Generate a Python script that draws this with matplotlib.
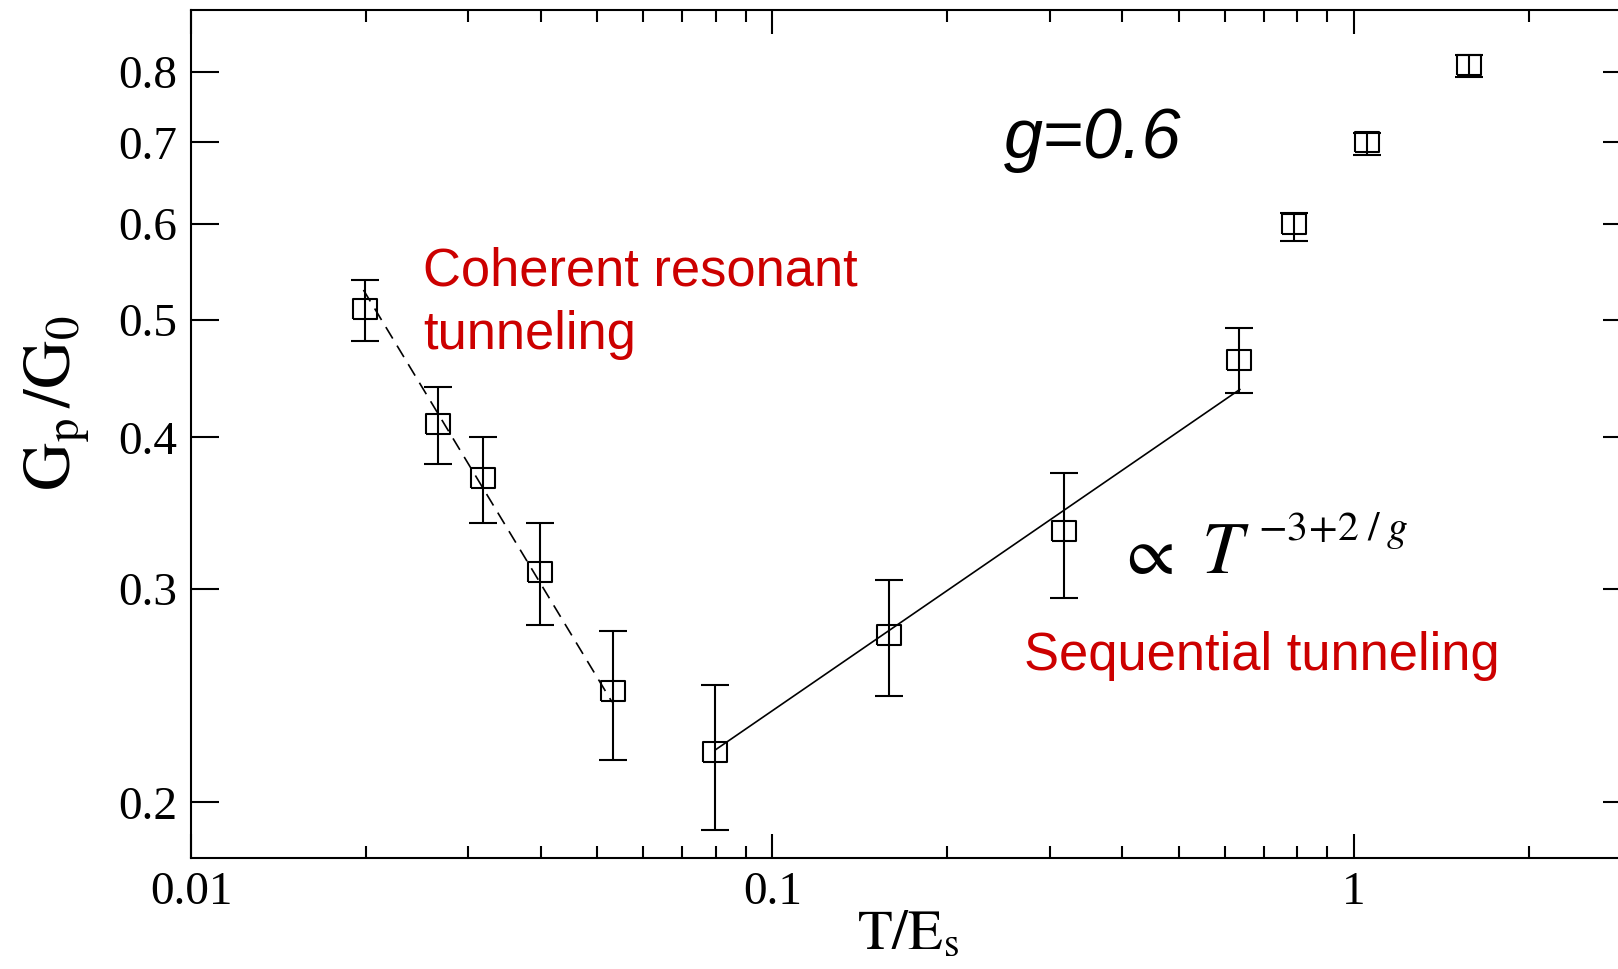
import numpy as np
import matplotlib
matplotlib.use("Agg")
import matplotlib.pyplot as plt
from matplotlib.ticker import NullFormatter, NullLocator

plt.rcParams['mathtext.fontset'] = 'stix'
plt.rcParams['font.family'] = ['Liberation Serif', 'DejaVu Serif']

# measured points, T/E_s vs G_p/G_0
T = [0.0199, 0.02655, 0.0318, 0.0398, 0.0531, 0.0797, 0.159, 0.318, 0.634, 0.79, 1.055, 1.58]
G = [0.510, 0.410, 0.370, 0.310, 0.247, 0.220, 0.275, 0.335, 0.463, 0.600, 0.700, 0.811]
G_lo = [0.480, 0.380, 0.340, 0.280, 0.217, 0.190, 0.245, 0.295, 0.435, 0.581, 0.684, 0.793]
G_hi = [0.539, 0.440, 0.400, 0.340, 0.277, 0.250, 0.305, 0.374, 0.492, 0.612, 0.713, 0.826]

# fit lines
coh_x = [0.0198, 0.0530]
coh_y = [0.529, 0.242]
seq_x = [0.0798, 0.637]
seq_y = [0.221, 0.438]

xticks = [0.01, 0.1, 1]
xlabels = ['0.01', '0.1', '1']
yticks = [0.2, 0.3, 0.4, 0.5, 0.6, 0.7, 0.8]
ylabels = ['0.2', '0.3', '0.4', '0.5', '0.6', '0.7', '0.8']

W, H = 1618, 969
fig = plt.figure(figsize=(W / 100, H / 100), dpi=100)
ax = fig.add_axes([191 / W, 111 / H, 1440 / W, 848 / H])

err = [np.array(G) - np.array(G_lo), np.array(G_hi) - np.array(G)]
ax.errorbar(T, G, yerr=err, fmt='none', ecolor='k', elinewidth=1.5,
            capsize=10, capthick=1.5)
box = [(-1, -0.84), (1, -0.84), (1, 0.84), (-1, 0.84), (-1, -0.84)]
ax.plot(T, G, linestyle='none', marker=box, ms=17.5, mfc='none', mec='k', mew=1.5)

ax.plot(coh_x, coh_y, color='k', lw=1.2, dashes=(8, 5))
ax.plot(seq_x, seq_y, color='k', lw=1.2)

ax.set_xscale('log')
ax.set_yscale('log')
ax.set_xlim(0.01, 3)
ax.set_ylim(0.18, 0.9)

ax.set_xticks(xticks)
ax.set_xticklabels(xlabels)
ax.xaxis.set_minor_formatter(NullFormatter())
ax.set_yticks(yticks)
ax.set_yticklabels(ylabels)
ax.yaxis.set_minor_locator(NullLocator())
ax.yaxis.set_minor_formatter(NullFormatter())

ax.tick_params(which='both', direction='in', top=True, right=True, width=1.5,
               labelsize=34, pad=10)
ax.tick_params(axis='x', which='major', length=17)
ax.tick_params(axis='x', which='minor', length=8.6)
ax.tick_params(axis='y', which='major', length=20)
for s in ax.spines.values():
    s.set_linewidth(1.5)

# axis labels
fig.text(857 / W, 1 - 949 / H, r'$\mathrm{T/E_{s}}$', fontsize=41, va='baseline')
fig.text(57 / W, 1 - 403 / H, r'$\mathrm{G_{p}\,/G_{0}}$', fontsize=48, rotation=90,
         ha='center', va='center')

# annotations
red = '#cc0000'
fig.text(423 / W, 1 - 286 / H, 'Coherent resonant', family='Liberation Sans',
         fontsize=37.8, color=red, va='baseline')
fig.text(423 / W, 1 - 349 / H, 'tunneling', family='Liberation Sans',
         fontsize=37.8, color=red, va='baseline')
fig.text(1024 / W, 1 - 670 / H, 'Sequential tunneling', family='Liberation Sans',
         fontsize=37.8, color=red, va='baseline')
fig.text(1004 / W, 1 - 158 / H, 'g=0.6', family='Liberation Sans', style='italic',
         fontsize=50.5, va='baseline')
fig.text(1116 / W, 1 - 574 / H, r'$\propto$', fontsize=50, va='baseline')
fig.text(1201 / W, 1 - 573 / H, r'$T$', fontsize=53, va='baseline')
fig.text(1258 / W, 1 - 540 / H, r'$-3\!+\!2\;/\;g$', fontsize=30, va='baseline')

plt.savefig('out.png', dpi=100)
